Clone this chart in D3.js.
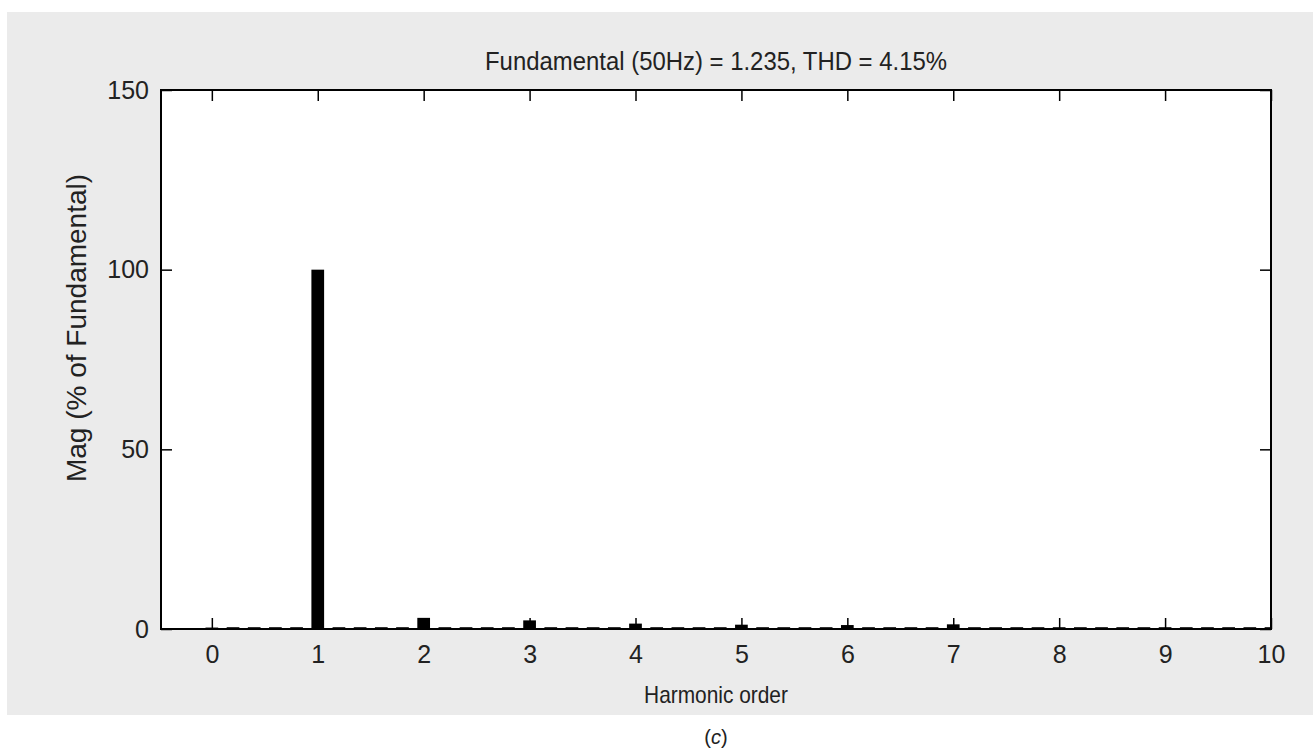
<!DOCTYPE html>
<html>
<head>
<meta charset="utf-8">
<script src="https://cdn.jsdelivr.net/npm/d3@7"></script>
<style>
  body { margin: 0; background: #fff; }
  svg { display: block; font-family: "Liberation Sans", Arial, sans-serif; }
</style>
</head>
<body>
<div id="chart"></div>
<script>
// harmonic order of each FFT bin (10 Hz resolution at 50 Hz fundamental)
const orders = [0, 0.2, 0.4, 0.6, 0.8, 1, 1.2, 1.4, 1.6, 1.8,
                2, 2.2, 2.4, 2.6, 2.8, 3, 3.2, 3.4, 3.6, 3.8,
                4, 4.2, 4.4, 4.6, 4.8, 5, 5.2, 5.4, 5.6, 5.8,
                6, 6.2, 6.4, 6.6, 6.8, 7, 7.2, 7.4, 7.6, 7.8,
                8, 8.2, 8.4, 8.6, 8.8, 9, 9.2, 9.4, 9.6, 9.8, 10]
// magnitude in % of fundamental
const magnitudes = [0.4, 0.5, 0.5, 0.5, 0.5, 100, 0.5, 0.5, 0.5, 0.5,
                    3.1, 0.5, 0.5, 0.5, 0.5, 2.4, 0.5, 0.5, 0.5, 0.5,
                    1.5, 0.5, 0.5, 0.5, 0.5, 1.2, 0.5, 0.5, 0.5, 0.5,
                    1.1, 0.5, 0.5, 0.5, 0.5, 1.3, 0.5, 0.5, 0.5, 0.5,
                    0.5, 0.5, 0.5, 0.5, 0.5, 0.5, 0.5, 0.5, 0.5, 0.5, 0.5]
const xTicks = [0, 1, 2, 3, 4, 5, 6, 7, 8, 9, 10]
const yTicks = [0, 50, 100, 150]
const titleText = "Fundamental (50Hz) = 1.235, THD = 4.15%"
const xLabel = "Harmonic order"
const yLabel = "Mag (% of Fundamental)"

const W = 1313, H = 753
const plot = {left: 161, top: 90, right: 1271, bottom: 629}

const svg = d3.select("#chart").append("svg")
    .attr("width", W).attr("height", H)

// grey figure background
svg.append("rect")
    .attr("x", 7).attr("y", 12)
    .attr("width", W - 7).attr("height", 715 - 12)
    .attr("fill", "#ebebeb")

svg.append("rect")
    .attr("x", plot.left).attr("y", plot.top)
    .attr("width", plot.right - plot.left).attr("height", plot.bottom - plot.top)
    .attr("fill", "#fff")

const x = d3.scaleLinear().domain([-0.48, 10]).range([plot.left, plot.right])
const y = d3.scaleLinear().domain([0, 150]).range([plot.bottom, plot.top])

const barW = x(0.12) - x(0)

svg.append("clipPath").attr("id", "clip")
  .append("rect")
    .attr("x", plot.left).attr("y", plot.top)
    .attr("width", plot.right - plot.left).attr("height", plot.bottom - plot.top)
const g = svg.append("g").attr("clip-path", "url(#clip)")

g.selectAll(".bar")
  .data(orders.map((o, i) => ({order: o, mag: magnitudes[i]})))
  .enter().append("rect")
    .attr("class", "bar")
    .attr("x", d => x(d.order) - barW / 2)
    .attr("y", d => y(d.mag))
    .attr("width", barW)
    .attr("height", d => y(0) - y(d.mag))
    .attr("fill", "#000")

// axes with inward ticks on all four sides (matlab box style)
const tickLen = 11
const axisStyle = sel => {
    sel.select(".domain").remove()
    sel.selectAll(".tick line").attr("stroke", "#000").attr("stroke-width", 1.5)
    sel.selectAll(".tick text").attr("fill", "#222").style("font-size", "25px")
        .style("font-family", "'Liberation Sans', Arial, sans-serif")
}

svg.append("g")
    .attr("transform", `translate(0,${plot.bottom})`)
    .call(d3.axisBottom(x).tickValues(xTicks).tickFormat(d3.format("d"))
        .tickSizeInner(-tickLen).tickSizeOuter(0).tickPadding(16))
    .call(axisStyle)

svg.append("g")
    .attr("transform", `translate(0,${plot.top})`)
    .call(d3.axisTop(x).tickValues(xTicks).tickFormat("")
        .tickSizeInner(-tickLen).tickSizeOuter(0))
    .call(axisStyle)

svg.append("g")
    .attr("transform", `translate(${plot.left},0)`)
    .call(d3.axisLeft(y).tickValues(yTicks).tickFormat(d3.format("d"))
        .tickSizeInner(-tickLen).tickSizeOuter(0).tickPadding(12))
    .call(axisStyle)

svg.append("g")
    .attr("transform", `translate(${plot.right},0)`)
    .call(d3.axisRight(y).tickValues(yTicks).tickFormat("")
        .tickSizeInner(-tickLen).tickSizeOuter(0))
    .call(axisStyle)

// box
svg.append("rect")
    .attr("x", plot.left).attr("y", plot.top)
    .attr("width", plot.right - plot.left).attr("height", plot.bottom - plot.top)
    .attr("fill", "none").attr("stroke", "#000").attr("stroke-width", 2)

const cx = (plot.left + plot.right) / 2

svg.append("text")
    .attr("transform", `translate(${cx},70) scale(0.92,1)`)
    .attr("text-anchor", "middle")
    .attr("fill", "#222").style("font-size", "26px")
    .text(titleText)

svg.append("text")
    .attr("transform", `translate(${cx},703) scale(0.87,1)`)
    .attr("text-anchor", "middle")
    .attr("fill", "#222").style("font-size", "24px")
    .text(xLabel)

svg.append("text")
    .attr("transform", "translate(86,328) rotate(-90)")
    .attr("text-anchor", "middle")
    .attr("fill", "#222").style("font-size", "28px")
    .text(yLabel)

const cap = svg.append("text")
    .attr("x", cx).attr("y", 744)
    .attr("text-anchor", "middle")
    .attr("fill", "#222").style("font-size", "20px")
cap.append("tspan").text("(")
cap.append("tspan").style("font-style", "italic").text("c")
cap.append("tspan").text(")")
</script>
</body>
</html>
